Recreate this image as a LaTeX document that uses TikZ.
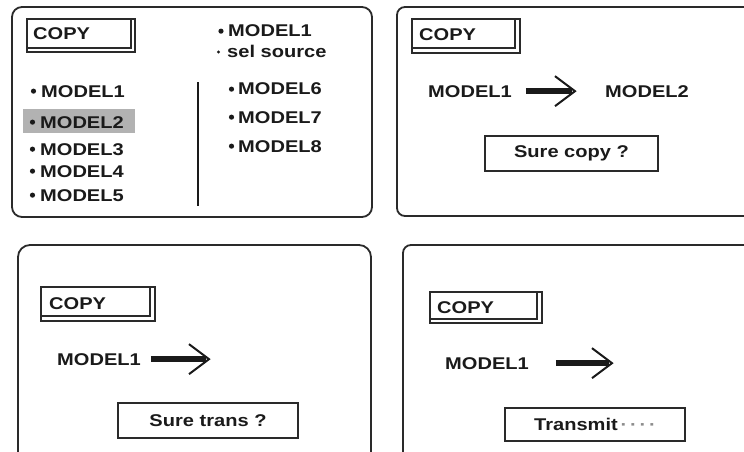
\documentclass[tikz,border=0pt]{standalone}
\usepackage{fontspec}
\newfontfamily\uifont{Liberation Sans}[FakeStretch=1.18]
\usetikzlibrary{calc}
\definecolor{ink}{HTML}{1A1A1A}
\definecolor{frame}{HTML}{2A2A2A}
\tikzset{
  lbl/.style={font=\uifont\bfseries\fontsize{17}{17}\selectfont, text=ink,
    anchor=base west, inner sep=0pt},
  panel/.style={draw=frame, line width=1.8pt, rounded corners=10pt},
  tab/.style={draw=frame, line width=1.3pt},
  dlg/.style={draw=frame, line width=1.5pt, font=\uifont\bfseries\fontsize{17}{17}\selectfont,
    text=ink, inner sep=0pt},
  shaft/.style={draw=ink, line width=5.5pt},
  barb/.style={draw=ink, line width=2pt},
  dot/.style={fill=ink}
}
\begin{document}
\begin{tikzpicture}[x=1pt, y=-1pt]
\useasboundingbox (0,0) rectangle (744,452);
\clip (0,0) rectangle (744,452);

% ---------- screen 1: model list ----------
\draw[panel] (12,7) rectangle (372,217);
\draw[tab] (27,19) rectangle (135,52);
\draw[tab] (27,19) rectangle (131,48);
\node[lbl] (c1) at (33,40) {COPY};

\fill[gray!60] (23,109) rectangle (135,133);
\node[lbl] (l1) at (41,97) {MODEL1};
\node[lbl] (l2) at (40,128) {MODEL2};
\node[lbl] (l3) at (40,155) {MODEL3};
\node[lbl] (l4) at (40,177) {MODEL4};
\node[lbl] (l5) at (40,201) {MODEL5};
\foreach \n in {l1,l2,l3,l4,l5}
  \fill[dot] ($(\n.west)+(-7.5,0)$) circle (2.6pt);

\node[lbl] (r0) at (228,37) {MODEL1};
\fill[dot] ($(r0.west)+(-7,0)$) circle (2.6pt);
\node[lbl] (r0s) at (227,58) {sel source};
\fill[dot] (218.5,52) circle (1.7pt);

\draw[ink, line width=1.4pt] (198,82) -- (198,206);

\node[lbl] (r6) at (238,95) {MODEL6};
\node[lbl] (r7) at (238,123) {MODEL7};
\node[lbl] (r8) at (238,152) {MODEL8};
\foreach \n in {r6,r7,r8}
  \fill[dot] ($(\n.west)+(-6.5,0)$) circle (2.6pt);

% ---------- screen 2: confirm copy ----------
\draw[panel, rounded corners=8pt] (397,7) rectangle (770,216);
\draw[tab] (412,19) rectangle (520,53);
\draw[tab] (412,19) rectangle (515,48);
\node[lbl] (c2) at (419,41) {COPY};
\node[lbl] (s2) at (428,97) {MODEL1};
\node[lbl] (d2) at (605,97) {MODEL2};
\coordinate (t2) at ($(d2.west)+(-30,0)$);
\draw[shaft, shorten <=14pt, shorten >=3pt] (s2.east) -- (t2);
\draw[barb] ($(t2)+(-20,-15)$) -- (t2) -- ($(t2)+(-20,15)$);
\node[dlg, minimum width=173pt, minimum height=35pt] (q2) at (571.5,153.5) {Sure copy ?};

% ---------- screen 3: confirm transfer ----------
\draw[panel, rounded corners=12pt] (18,245) rectangle (371,480);
\draw[tab] (41,287) rectangle (155,321);
\draw[tab] (41,287) rectangle (150,316);
\node[lbl] (c3) at (49,309) {COPY};
\node[lbl] (s3) at (57,365) {MODEL1};
\coordinate (t3) at ([xshift=68pt]s3.east);
\draw[shaft, shorten <=10pt, shorten >=3pt] (s3.east) -- (t3);
\draw[barb] ($(t3)+(-20,-15)$) -- (t3) -- ($(t3)+(-20,15)$);
\node[dlg, minimum width=180pt, minimum height=35pt] (q3) at (208,420.5) {Sure trans ?};

% ---------- screen 4: transmitting ----------
\draw[panel, rounded corners=8pt] (403,245) rectangle (770,480);
\draw[tab] (430,292) rectangle (542,323);
\draw[tab] (430,292) rectangle (537,319);
\node[lbl] (c4) at (437,313) {COPY};
\node[lbl] (s4) at (445,369) {MODEL1};
\coordinate (t4) at ([xshift=83pt]s4.east);
\draw[shaft, shorten <=27pt, shorten >=3pt] (s4.east) -- (t4);
\draw[barb] ($(t4)+(-20,-15)$) -- (t4) -- ($(t4)+(-20,15)$);
\node[dlg, minimum width=180pt, minimum height=33pt] (q4) at (595,424.5)
  {Transmit\,{\color{gray!90}·\,·\,·\,·}};
\end{tikzpicture}
\end{document}
